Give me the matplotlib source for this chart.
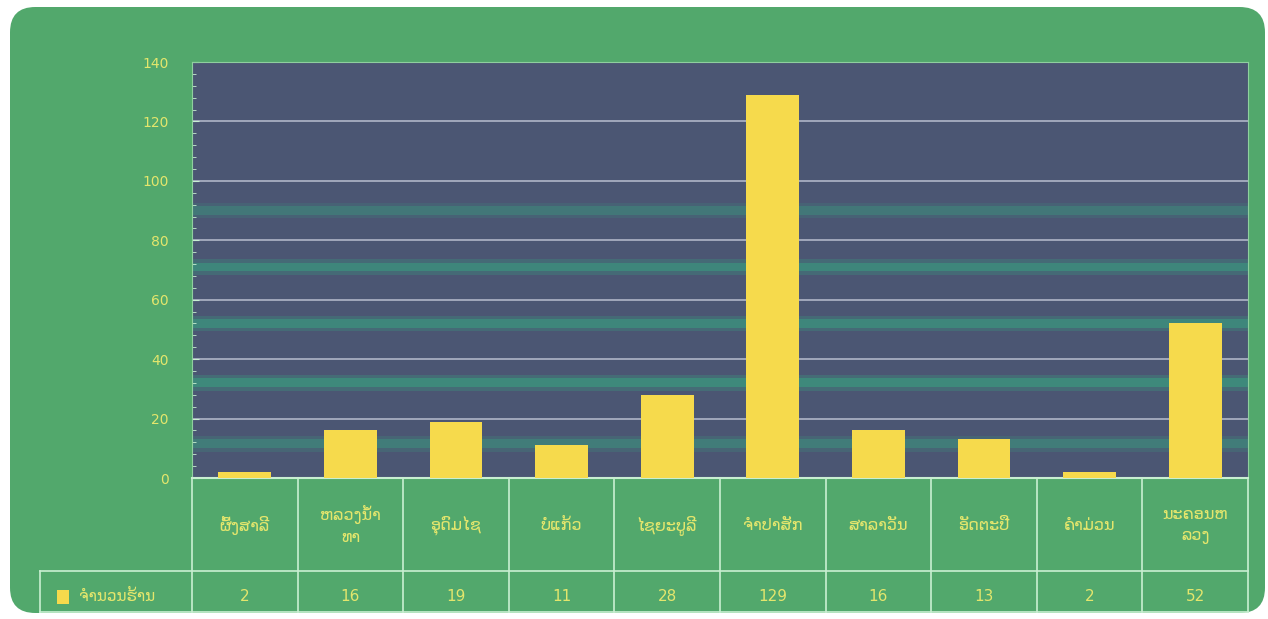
import matplotlib.pyplot as plt
import matplotlib.transforms as mtransforms
from matplotlib.patches import FancyBboxPatch, Rectangle
from matplotlib.ticker import MultipleLocator

## provinces and number of shops in each
provinces = ["ຜົ້ງສາລີ", "ຫລວງນ້ຳ\nທາ", "ອຸດົມໄຊ", "ບໍ່ແກ້ວ", "ໄຊຍະບູລີ",
             "ຈຳປາສັກ", "ສາລາວັນ", "ອັດຕະປື", "ຄຳມ່ວນ", "ນະຄອນຫ\nລວງ"]
shops = [2, 16, 19, 11, 28, 129, 16, 13, 2, 52]
series_name = "ຈຳນວນຮ້ານ"
y_ticks = [0, 20, 40, 60, 80, 100, 120, 140]

## colours
panel_green = "#52a86c"
plot_bg = "#4b5673"
band_teal = "#3b977e"
bar_yellow = "#f6da4c"
text_yellow = "#e4e66c"
line_col = "#c9efd2"

plt.rcParams['font.family'] = ['DejaVu Sans']

fig = plt.figure(figsize=(12.68, 6.19), dpi=100)
fig.patch.set_facecolor("white")

## rounded green panel behind everything
panel = FancyBboxPatch((10 / 1268, 6 / 619), 1255 / 1268, 606 / 619,
                       boxstyle="round,pad=0,rounding_size=0.02",
                       transform=fig.transFigure, facecolor=panel_green,
                       edgecolor="none", zorder=-10, mutation_aspect=1268 / 619)
fig.patches.append(panel)

ax = fig.add_axes([192 / 1268, 1 - 478 / 619, 1056 / 1268, 416 / 619])
ax.set_zorder(1)
ax.set_facecolor(plot_bg)

x = list(range(len(provinces)))
ax.set_xlim(-0.5, len(provinces) - 0.5)
ax.set_ylim(0, 140)

## soft teal streaks between the grid lines
for c, a in [(11.5, 0.6), (32, 0.85), (52, 0.8), (71, 0.8), (90, 0.5)]:
    ax.axhspan(c - 2.6, c + 2.6, color=band_teal, alpha=a * 0.4, lw=0, zorder=0.5)
    ax.axhspan(c - 1.5, c + 1.5, color=band_teal, alpha=a * 0.8, lw=0, zorder=0.5)

ax.bar(x, shops, width=0.5, color=bar_yellow, zorder=3)

ax.set_yticks(y_ticks)
ax.yaxis.set_minor_locator(MultipleLocator(4))
ax.yaxis.grid(True, color="#d3d8e6", lw=1.1, alpha=0.8, zorder=1)
ax.set_xticks([])
ax.tick_params(axis="y", which="major", colors=line_col, labelcolor=text_yellow,
               labelsize=10, length=5, direction="in", pad=17)
ax.tick_params(axis="y", which="minor", colors=line_col, length=3, direction="in")
for s in ["top", "right", "left"]:
    ax.spines[s].set_color("#8fcf9f")
ax.spines["bottom"].set_color(line_col)
ax.spines["bottom"].set_linewidth(1.5)

## data table under the axes
trans = mtransforms.blended_transform_factory(ax.transData, ax.transAxes)
row1_mid = -0.113
row2_top = -0.2236
row2_mid = -0.286
row2_bot = -0.322
left_edge = -0.5 - 152 / 105.6

lkw = dict(color=line_col, lw=1.2, transform=trans, clip_on=False)
ax.plot([left_edge, len(provinces) - 0.5], [row2_top, row2_top], **lkw)
ax.plot([left_edge, len(provinces) - 0.5], [row2_bot, row2_bot], **lkw)
ax.plot([left_edge, left_edge], [row2_top, row2_bot], **lkw)
for b in range(len(provinces) + 1):
    ax.plot([b - 0.5, b - 0.5], [0, row2_bot], **lkw)

for i, (name, v) in enumerate(zip(provinces, shops)):
    ax.text(i, row1_mid, name, transform=trans, ha="center", va="center",
            color=text_yellow, fontsize=11.5, linespacing=1.5)
    ax.text(i, row2_mid, str(v), transform=trans, ha="center", va="center",
            color=text_yellow, fontsize=11)

## legend key in the first cell
ax.add_patch(Rectangle((left_edge + 0.16, row2_mid - 0.017), 0.11, 0.034,
                       transform=trans, facecolor=bar_yellow,
                       edgecolor="none", clip_on=False))
ax.text(left_edge + 0.37, row2_mid, series_name, transform=trans,
        ha="left", va="center", color=text_yellow, fontsize=11)

fig.savefig("out.png", dpi=100, facecolor=fig.get_facecolor())
